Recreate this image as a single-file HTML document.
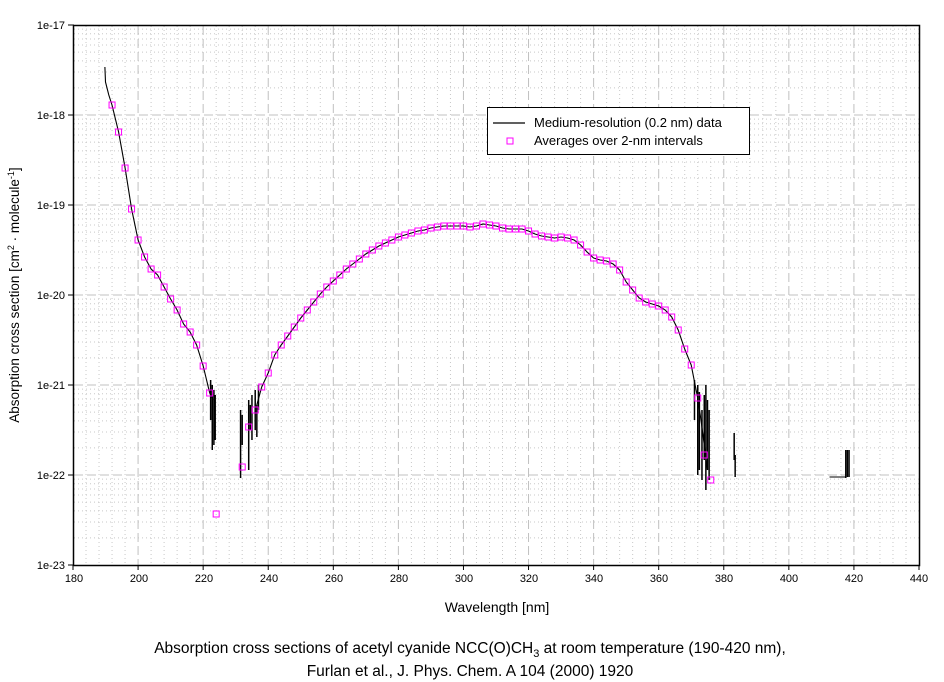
<!DOCTYPE html>
<html><head><meta charset="utf-8"><style>
body{margin:0;background:#fff;}
svg{display:block;font-family:"Liberation Sans",Arial,sans-serif;}
</style></head><body>
<svg id="s" width="944" height="682" viewBox="0 0 944 682" xmlns="http://www.w3.org/2000/svg">
<rect width="944" height="682" fill="#fff"/>
<g id="grid"></g>
<g id="data"></g>
<rect x="73.5" y="25.5" width="846" height="540" fill="none" stroke="#000" stroke-width="1.5"/>
<g id="ticks" stroke="#000" stroke-width="1"></g>
<g font-size="11" text-anchor="end" fill="#000">
<text x="65" y="29">1e-17</text>
<text x="65" y="119">1e-18</text>
<text x="65" y="209">1e-19</text>
<text x="65" y="299">1e-20</text>
<text x="65" y="389">1e-21</text>
<text x="65" y="479">1e-22</text>
<text x="65" y="569">1e-23</text>
</g>
<g font-size="11" text-anchor="middle" fill="#000">
<text x="74" y="582">180</text><text x="139" y="582">200</text><text x="204" y="582">220</text>
<text x="269" y="582">240</text><text x="334" y="582">260</text><text x="399" y="582">280</text>
<text x="464" y="582">300</text><text x="529" y="582">320</text><text x="594" y="582">340</text>
<text x="659" y="582">360</text><text x="724" y="582">380</text><text x="789" y="582">400</text>
<text x="854" y="582">420</text><text x="919" y="582">440</text>
</g>
<text x="497" y="612" font-size="14" text-anchor="middle">Wavelength [nm]</text>
<text transform="translate(19,295) rotate(-90)" font-size="13.5" text-anchor="middle">Absorption cross section [cm<tspan dy="-5" font-size="9">2</tspan><tspan dy="5"> · molecule</tspan><tspan dy="-5" font-size="9">-1</tspan><tspan dy="5">]</tspan></text>
<text x="470" y="653" font-size="15.5" text-anchor="middle">Absorption cross sections of acetyl cyanide NCC(O)CH<tspan dy="4" font-size="11">3</tspan><tspan dy="-4"> at room temperature (190-420 nm),</tspan></text>
<text x="470" y="676" font-size="15.5" text-anchor="middle">Furlan et al., J. Phys. Chem. A 104 (2000) 1920</text>
<rect x="487.5" y="107.5" width="262" height="47" fill="#fff" stroke="#000" stroke-width="1"/>
<line x1="493" y1="123" x2="525" y2="123" stroke="#000" stroke-width="1.2"/>
<rect x="507" y="138" width="6" height="6" fill="none" stroke="#f0f" stroke-width="1"/>
<text x="534" y="127" font-size="13">Medium-resolution (0.2 nm) data</text>
<text x="534" y="145" font-size="13">Averages over 2-nm intervals</text>
</svg>
<script>
var NS="http://www.w3.org/2000/svg";
function X(l){return 73+(l-180)*846/260;}
function Y(L){return 25+(-17-L)*90;}
function el(p,t,a){var e=document.createElementNS(NS,t);for(var k in a)e.setAttribute(k,a[k]);p.appendChild(e);return e;}
var g=document.getElementById("grid"),tk=document.getElementById("ticks");
for(var l=184;l<440;l+=4){if((l-180)%20==0)continue;var x=X(l);el(g,"line",{x1:x,y1:26,x2:x,y2:565,stroke:"#c8c8c8","stroke-dasharray":"1,3"});}
for(var d=-23;d<-17;d++){for(var m=2;m<10;m++){var y=Y(d+Math.log10(m));el(g,"line",{x1:74,y1:y,x2:919,y2:y,stroke:"#c8c8c8","stroke-dasharray":"1,3"});}}
for(var l=200;l<440;l+=20){var x=X(l);el(g,"line",{x1:x,y1:26,x2:x,y2:565,stroke:"#c0c0c0","stroke-dasharray":"9,4"});}
for(var d=-22;d<-17;d++){var y=Y(d);el(g,"line",{x1:74,y1:y,x2:919,y2:y,stroke:"#c0c0c0","stroke-dasharray":"9,4"});}
for(var l=180;l<=440;l+=20){var x=X(l);el(tk,"line",{x1:x,y1:565,x2:x,y2:570});}
for(var d=-23;d<=-17;d++){var y=Y(d);el(tk,"line",{x1:68,y1:y,x2:74,y2:y});}
var pts=[[192,105],[194,132],[196,168],[198,209],[200,240],[202,257],[204,269],[206,275],[208,287],[210,299],[212,310],[214,324],[216,332],[218,345],[220,366],[222,393],[224,514],[232,467],[234,427],[236,410],[238,387],[240,373],[242,355],[244,345],[246,336],[248,327],[250,318],[252,310],[254,302],[256,294],[258,287],[260,281],[262,275],[264,269],[266,264],[268,259],[270,254],[272,250],[274,246],[276,243],[278,240],[280,237],[282,235],[284,233],[286,231],[288,230],[290,228],[292,227],[294,226],[296,226],[298,226],[300,226],[302,227],[304,226],[306,224],[308,225],[310,226],[312,228],[314,229],[316,229],[318,229],[320,231],[322,234],[324,236],[326,237],[328,238],[330,237],[332,238],[334,240],[336,245],[338,252],[340,258],[342,260],[344,261],[346,264],[348,270],[350,282],[352,290],[354,298],[356,302],[358,304],[360,306],[362,310],[364,317],[366,330],[368,349],[370,365],[372,398],[374,455],[376,480]];
var dg=document.getElementById("data");
function path(arr){var s="";arr.forEach(function(p,i){var x=X(p[0]),y=p[1];s+=(i==0?"M":"L")+x.toFixed(1)+","+y;});return s;}
var seg1=[[189.8,67],[190,82],[191,95]].concat(pts.filter(function(p){return p[0]<=222;})).concat([[223,400]]);
var seg2=[[236.5,405]].concat(pts.filter(function(p){return p[0]>=238&&p[0]<=372;})).concat([[373,420],[375,470]]);
el(dg,"path",{d:path(seg1),fill:"none",stroke:"#000","stroke-width":1.1});
el(dg,"path",{d:path(seg2),fill:"none",stroke:"#000","stroke-width":1.1});
var spikes=[[222.3,380,420],[222.8,385,450],[223.3,390,445],[223.7,395,440],[231.5,410,478],[232,415,445],[234,400,470],[234.5,405,430],[235,395,440],[236,390,430],[236.5,405,437],[237,385,410],[371,380,420],[372,385,475],[372.5,392,470],[373.3,410,480],[374,395,460],[374.5,385,490],[375,400,470],[375.5,410,480],[383.2,433,460],[383.5,455,477],[417.5,450,478],[418,450,477],[418.5,450,477]];
spikes.forEach(function(s){var x=X(s[0]);el(dg,"line",{x1:x,y1:s[1],x2:x,y2:s[2],stroke:"#000","stroke-width":1.5});});
el(dg,"line",{x1:X(412.5),y1:477,x2:X(417.5),y2:477,stroke:"#000","stroke-width":1});
pts.forEach(function(p){el(dg,"rect",{x:X(p[0])-3,y:p[1]-3,width:6,height:6,fill:"none",stroke:"#f0f","stroke-width":1});});
</script>
</body></html>
